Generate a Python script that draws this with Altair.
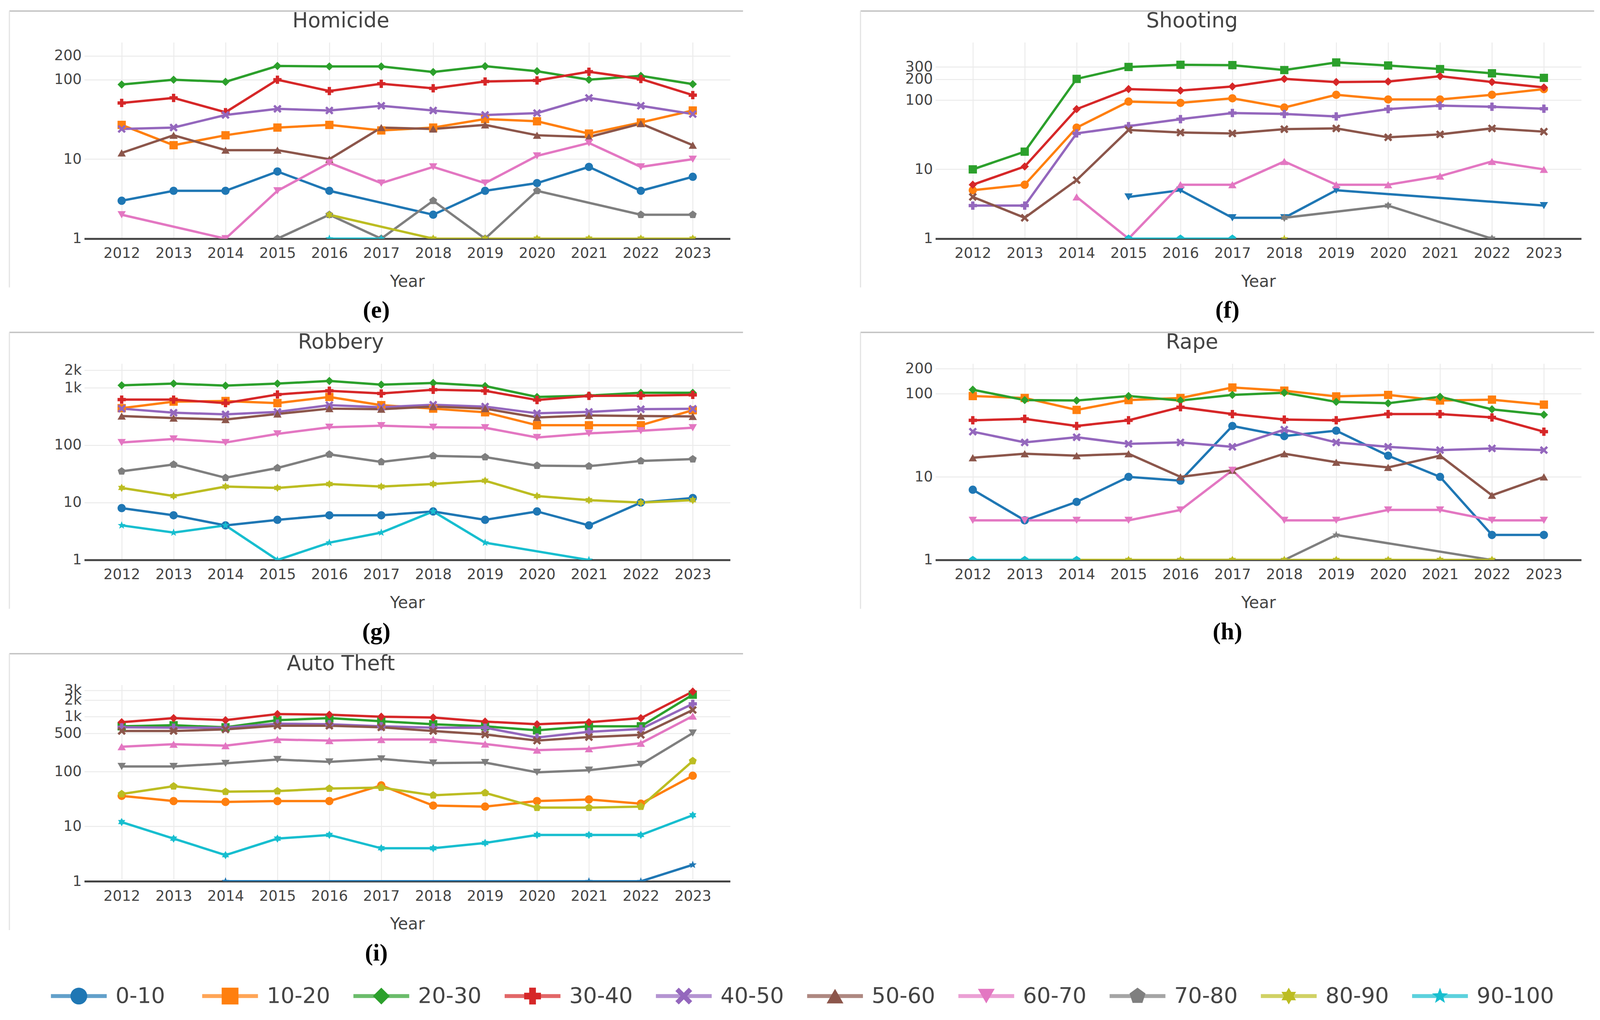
import math
import altair as alt
import pandas as pd

# ---------------- data ----------------
YEARS = list(range(2012, 2024))
GROUPS = ["0-10", "10-20", "20-30", "30-40", "40-50",
          "50-60", "60-70", "70-80", "80-90", "90-100"]
COLORS = ["#1f77b4", "#ff7f0e", "#2ca02c", "#d62728", "#9467bd",
          "#8c564b", "#e377c2", "#7f7f7f", "#bcbd22", "#17becf"]
_ = None

HOMICIDE = {
    "0-10":   [3, 4, 4, 7, 4, _, 2, 4, 5, 8, 4, 6],
    "10-20":  [27, 15, 20, 25, 27, 23, 25, 32, 30, 21, 29, 41],
    "20-30":  [87, 100, 94, 149, 147, 147, 125, 148, 128, 100, 112, 88],
    "30-40":  [51, 59, 39, 100, 72, 89, 78, 95, 98, 126, 102, 64],
    "40-50":  [24, 25, 36, 43, 41, 47, 41, 36, 38, 59, 47, 37],
    "50-60":  [12, 20, 13, 13, 10, 25, 24, 27, 20, 19, 28, 15],
    "60-70":  [2, _, 1, 4, 9, 5, 8, 5, 11, 16, 8, 10],
    "70-80":  [_, _, _, 1, 2, 1, 3, 1, 4, _, 2, 2],
    "80-90":  [_, _, _, _, 2, _, 1, 1, 1, 1, 1, 1],
    "90-100": [_, _, _, _, 1, 1, _, _, _, _, _, _],
}
SHOOTING = {
    "0-10":   [_, _, _, 4, 5, 2, 2, 5, _, _, _, 3],
    "10-20":  [5, 6, 40, 95, 91, 106, 78, 119, 102, 102, 119, 144],
    "20-30":  [10, 18, 202, 300, 323, 319, 271, 349, 315, 280, 243, 209],
    "30-40":  [6, 11, 74, 144, 137, 157, 202, 182, 185, 221, 182, 152],
    "40-50":  [3, 3, 33, 42, 53, 65, 63, 58, 74, 83, 80, 75],
    "50-60":  [4, 2, 7, 37, 34, 33, 38, 39, 29, 32, 39, 35],
    "60-70":  [_, _, 4, 1, 6, 6, 13, 6, 6, 8, 13, 10],
    "70-80":  [_, _, _, _, _, _, 2, _, 3, _, 1, _],
    "80-90":  [_, _, _, _, _, _, 1, _, _, _, _, _],
    "90-100": [_, _, _, 1, 1, 1, _, _, _, _, _, _],
}
ROBBERY = {
    "0-10":   [8, 6, 4, 5, 6, 6, 7, 5, 7, 4, 10, 12],
    "10-20":  [440, 572, 586, 540, 690, 497, 432, 373, 222, 222, 222, 405],
    "20-30":  [1100, 1180, 1085, 1180, 1310, 1130, 1210, 1070, 690, 730, 815, 815],
    "30-40":  [620, 620, 540, 762, 884, 794, 921, 884, 610, 720, 730, 750],
    "40-50":  [432, 367, 343, 379, 497, 458, 505, 469, 358, 379, 422, 429],
    "50-60":  [321, 296, 279, 349, 432, 422, 469, 432, 303, 329, 321, 316],
    "60-70":  [111, 128, 111, 157, 205, 218, 205, 201, 136, 160, 178, 201],
    "70-80":  [35, 46, 27, 40, 69, 51, 65, 62, 44, 43, 53, 57],
    "80-90":  [18, 13, 19, 18, 21, 19, 21, 24, 13, 11, 10, 11],
    "90-100": [4, 3, 4, 1, 2, 3, 7, 2, _, 1, _, _],
}
RAPE = {
    "0-10":   [7, 3, 5, 10, 9, 41, 31, 36, 18, 10, 2, 2],
    "10-20":  [94, 89, 64, 84, 89, 119, 109, 93, 97, 83, 85, 74],
    "20-30":  [112, 84, 83, 94, 83, 97, 103, 80, 77, 92, 65, 56],
    "30-40":  [48, 50, 41, 48, 69, 57, 49, 48, 57, 57, 52, 35],
    "40-50":  [35, 26, 30, 25, 26, 23, 37, 26, 23, 21, 22, 21],
    "50-60":  [17, 19, 18, 19, 10, 12, 19, 15, 13, 18, 6, 10],
    "60-70":  [3, 3, 3, 3, 4, 12, 3, 3, 4, 4, 3, 3],
    "70-80":  [_, _, _, _, 1, _, 1, 2, _, _, 1, _],
    "80-90":  [_, 1, 1, 1, 1, 1, 1, 1, 1, 1, 1, _],
    "90-100": [1, 1, 1, _, _, _, _, _, _, _, _, _],
}
AUTO_THEFT = {
    "0-10":   [_, _, 1, _, _, _, _, _, _, 1, 1, 2],
    "10-20":  [36, 29, 28, 29, 29, 56, 24, 23, 29, 31, 26, 84],
    "20-30":  [669, 698, 641, 865, 942, 828, 728, 669, 564, 669, 669, 2520],
    "30-40":  [794, 942, 865, 1118, 1089, 1000, 966, 815, 728, 794, 942, 2870],
    "40-50":  [641, 630, 630, 748, 728, 669, 630, 630, 418, 531, 598, 1715],
    "50-60":  [549, 549, 588, 686, 686, 641, 549, 475, 367, 425, 467, 1327],
    "60-70":  [284, 315, 297, 384, 367, 384, 384, 318, 246, 261, 329, 1026],
    "70-80":  [124, 124, 141, 166, 150, 170, 143, 146, 97, 106, 135, 504],
    "80-90":  [39, 54, 43, 44, 49, 51, 37, 41, 22, 22, 23, 156],
    "90-100": [12, 6, 3, 6, 7, 4, 4, 5, 7, 7, 7, 16],
}

HOMICIDE_TICKS = [1, 10, 100, 200]
SHOOTING_TICKS = [1, 10, 100, 200, 300]
ROBBERY_TICKS = [1, 10, 100, 1000, 2000]
RAPE_TICKS = [1, 10, 100, 200]
AUTO_TICKS = [1, 10, 100, 500, 1000, 2000, 3000]

# ---------------- styling ----------------
FONT = "DejaVu Sans"
TXT = "#444444"
GRID = "#ebebeb"
PLOT_W, PLOT_H = 1655, 503
Y_EXTENT = 203
FRAME_L, FRAME_R, FRAME_T, FRAME_B = -192, 1688, -80, 628
FRAME_TOP_W = 3.5


def poly(n, r=1.0, rot=-90.0):
    pts = [(r * math.cos(math.radians(rot + 360.0 * k / n)),
            r * math.sin(math.radians(rot + 360.0 * k / n))) for k in range(n)]
    return "M" + "L".join(f"{x:.3f},{y:.3f}" for x, y in pts) + "Z"


def star(n, ro, ri, rot=-90.0):
    pts = []
    for k in range(2 * n):
        r = ro if k % 2 == 0 else ri
        a = math.radians(rot + 180.0 * k / n)
        pts.append((r * math.cos(a), r * math.sin(a)))
    return "M" + "L".join(f"{x:.3f},{y:.3f}" for x, y in pts) + "Z"


X_PATH = ("M-1,-0.6L-0.6,-1L0,-0.4L0.6,-1L1,-0.6L0.4,0L1,0.6L0.6,1"
          "L0,0.4L-0.6,1L-1,0.6L-0.4,0Z")
SYMBOL_SEQ = ["circle", "square", "diamond", "cross", X_PATH,
              "triangle-up", "triangle-down", poly(5, 1.0),
              star(6, 1.0, 0.577), star(5, 1.0, 0.42)]

LABEL_EXPR = ("datum.value >= 1000 ? format(datum.value / 1000, 'd') + 'k' "
              ": format(datum.value, 'd')")

# title sits inside the frame: its bottom 27 px above the plot area
TITLE_OFFSET = -((-FRAME_T + FRAME_TOP_W / 2) - 27)


def panel(title, data, top, ticks):
    firsts = []
    for gi, g in enumerate(GROUPS):
        idx = next((i for i, v in enumerate(data[g]) if v is not None), 99)
        firsts.append((idx, gi))
    sym_of = {GROUPS[gi]: SYMBOL_SEQ[rank]
              for rank, (_i, gi) in enumerate(sorted(firsts))}
    rows = []
    for gi, g in enumerate(GROUPS):
        for yr, v in zip(YEARS, data[g]):
            if v is not None:
                rows.append({"group": g, "gi": gi, "year": yr,
                             "count": v, "sym": sym_of[g]})
    df = pd.DataFrame(rows)

    x = alt.X("year:Q",
              scale=alt.Scale(domain=[2011.28, 2023.72], nice=False, zero=False),
              axis=alt.Axis(values=YEARS, format="d", title="Year", ticks=False,
                            domainColor=TXT, domainWidth=5, grid=True,
                            gridColor=GRID, gridWidth=2.5,
                            labelFont=FONT, labelFontSize=37, labelColor=TXT,
                            labelPadding=20, titleFont=FONT, titleFontSize=42,
                            titleFontWeight="normal", titleColor=TXT,
                            titlePadding=34))
    y = alt.Y("count:Q",
              scale=alt.Scale(type="log", domain=[1, top], nice=False),
              axis=alt.Axis(values=ticks, labelExpr=LABEL_EXPR, title=None,
                            domain=False, ticks=False, grid=True,
                            gridColor=GRID, gridWidth=2.5,
                            labelFont=FONT, labelFontSize=37, labelColor=TXT,
                            labelPadding=7, labelOverlap=False,
                            minExtent=Y_EXTENT, maxExtent=Y_EXTENT))
    color = alt.Color("group:N", scale=alt.Scale(domain=GROUPS, range=COLORS),
                      legend=None)
    base = alt.Chart(df).encode(x=x, y=y, color=color)
    lines = base.mark_line(strokeWidth=6, clip=True).encode(
        order=alt.Order("year:Q"))
    pts = base.mark_point(filled=True, size=450, opacity=1, clip=True).encode(
        shape=alt.Shape("sym:N", scale=None))

    # panel frame (border of the original figure screenshot)
    fr = alt.Chart(pd.DataFrame({"k": [0]}))
    frame_top = fr.mark_rule(color="#c2c2c2", strokeWidth=FRAME_TOP_W).encode(
        x=alt.value(FRAME_L), x2=alt.value(FRAME_R), y=alt.value(FRAME_T))
    frame_left = fr.mark_rule(color="#e3e3e3", strokeWidth=3).encode(
        x=alt.value(FRAME_L), y=alt.value(FRAME_T), y2=alt.value(FRAME_B))

    return alt.layer(frame_top, frame_left, lines, pts).properties(
        width=PLOT_W, height=PLOT_H,
        title=alt.TitleParams(title, anchor="middle", frame="group", dx=-170,
                              offset=TITLE_OFFSET, font=FONT, fontSize=53,
                              fontWeight="normal", color=TXT))


def cell(title, data, top, ticks, caption):
    return alt.vconcat(panel(title, data, top, ticks)).properties(
        title=alt.TitleParams(caption, orient="bottom", anchor="middle",
                              frame="bounds", dx=5, offset=23,
                              font="Liberation Serif", fontSize=62,
                              fontWeight="bold", color="#000000"))


# ---------------- legend ----------------
LEGEND_SYMS = SYMBOL_SEQ
leg_df = pd.DataFrame({"group": GROUPS, "sym": LEGEND_SYMS})
LEG_H = 86
LEG_Y = 56
lx = alt.X("group:N", sort=GROUPS, axis=None,
           scale=alt.Scale(type="point", padding=0, range=[-14, 3474]))
lcol = alt.Color("group:N", scale=alt.Scale(domain=GROUPS, range=COLORS),
                 legend=None)
leg_base = alt.Chart(leg_df).encode(x=lx)
leg_line = leg_base.mark_tick(orient="horizontal", size=143, thickness=10).encode(
    color=lcol, y=alt.value(LEG_Y))
leg_pts = leg_base.mark_point(filled=True, size=1850, opacity=1).encode(
    color=lcol, shape=alt.Shape("sym:N", scale=None), y=alt.value(LEG_Y))
leg_txt = leg_base.mark_text(align="left", baseline="middle", dx=94,
                             font=FONT, fontSize=56, color=TXT).encode(
    text="group:N", y=alt.value(LEG_Y))
legend = alt.layer(leg_line, leg_pts, leg_txt).properties(width=3500, height=LEG_H)

row1 = alt.hconcat(cell("Homicide", HOMICIDE, 296, HOMICIDE_TICKS, "(e)"),
                   cell("Shooting", SHOOTING, 682, SHOOTING_TICKS, "(f)"),
                   spacing=321 - (FRAME_R - PLOT_W))
row2 = alt.hconcat(cell("Robbery", ROBBERY, 2630, ROBBERY_TICKS, "(g)"),
                   cell("Rape", RAPE, 231, RAPE_TICKS, "(h)"),
                   spacing=321 - (FRAME_R - PLOT_W))
row3 = cell("Auto Theft", AUTO_THEFT, 3800, AUTO_TICKS, "(i)")

chart = alt.vconcat(row1, row2, row3, legend, spacing=23).properties(
    padding={"left": 5, "top": 17, "right": 5, "bottom": 5},
    background="white",
).configure_view(strokeWidth=0)

chart.save("out.html", embed_options={"renderer": "svg", "actions": False})
